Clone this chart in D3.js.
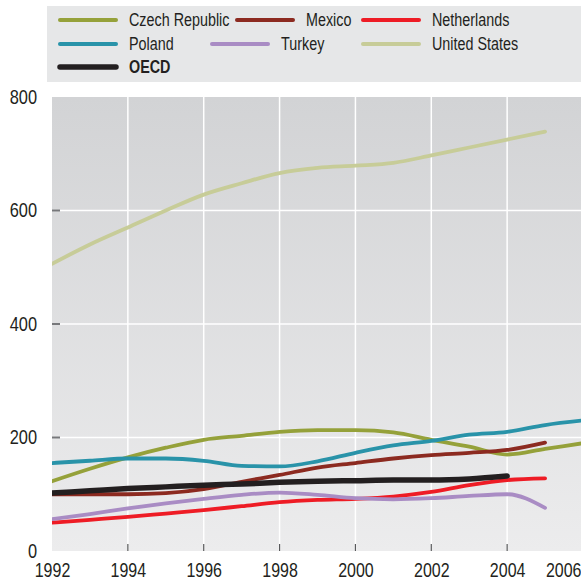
<!DOCTYPE html>
<html>
<head>
<meta charset="utf-8">
<script src="https://cdn.jsdelivr.net/npm/d3@7"></script>
<style>
  body { margin: 0; background: #fff; }
  svg { display: block; font-family: "Liberation Sans", Arial, sans-serif; }
  .lbl { fill: #231f20; }
</style>
</head>
<body>
<div id="chart"></div>
<script>
var years = [1992, 1993, 1994, 1995, 1996, 1997, 1998, 1999, 2000, 2001, 2002, 2003, 2004, 2005, 2006];
var czech = [123, 145, 165, 182, 196, 203, 210, 213, 213, 209, 196, 184, 170, 180, 190];
var mexico = [100, 100, 100, 102, 109, 122, 134, 147, 155, 163, 169, 173, 178, 191, null];
var netherlands = [50, 55, 60, 66, 72, 79, 86, 90, 92, 96, 104, 116, 125, 128, null];
var poland = [155, 159, 163, 163, 159, 150, 149, 158, 173, 186, 194, 205, 210, 222, 230];
var turkey = [56, 65, 75, 84, 92, 99, 103, 99, 93, 91, 93, 97, 100, 76, null];
var unitedStates = [506, 540, 570, 600, 628, 648, 666, 675, 679, 684, 697, 711, 725, 739, null];
var oecd = [102, 106, 110, 113, 116, 118, 121, 123, 124, 125, 125, 127, 132, null, null];
var yTicks = [0, 200, 400, 600, 800];
var xTicks = [1992, 1994, 1996, 1998, 2000, 2002, 2004, 2006];

var series = [
  {name: "Czech Republic", values: czech, color: "#95a13a"},
  {name: "Mexico", values: mexico, color: "#8c2a20"},
  {name: "Netherlands", values: netherlands, color: "#ee1c25"},
  {name: "Poland", values: poland, color: "#2993a9"},
  {name: "Turkey", values: turkey, color: "#a98cc4"},
  {name: "United States", values: unitedStates, color: "#c7cc98"},
  {name: "OECD", values: oecd, color: "#231f20", bold: true}
];
// draw order: OECD above the light ones, as in the picture
var drawOrder = ["United States", "Czech Republic", "Poland", "Mexico", "Netherlands", "Turkey", "OECD"];

var W = 581, H = 582;
var plot = {left: 52, right: 581, top: 97, bottom: 551};
var SX = 0.82; // no narrow font installed: squeeze Liberation Sans like Arial Narrow

var svg = d3.select("#chart").append("svg").attr("width", W).attr("height", H);

var x = d3.scaleLinear().domain([1992, 2006]).range([plot.left, 583]);
var y = d3.scaleLinear().domain([0, 800]).range([plot.bottom, plot.top]);

var narrow = function(sel) {
  sel.each(function() {
    var t = d3.select(this);
    var x0 = +t.attr("x") || 0, y0 = +t.attr("y") || 0;
    t.attr("x", 0).attr("y", 0)
      .attr("transform", "translate(" + x0 + "," + y0 + ") scale(" + SX + ",1)");
  });
};

var defs = svg.append("defs");
var grad = defs.append("linearGradient").attr("id", "bg").attr("x1", 0).attr("y1", 0).attr("x2", 0).attr("y2", 1);
grad.append("stop").attr("offset", "0%").attr("stop-color", "#d2d3d5");
grad.append("stop").attr("offset", "100%").attr("stop-color", "#ececed");
defs.append("clipPath").attr("id", "clip").append("rect")
  .attr("x", plot.left).attr("y", plot.top)
  .attr("width", plot.right - plot.left).attr("height", plot.bottom - plot.top);

// legend
var legend = svg.append("g");
legend.append("rect").attr("x", 47).attr("y", 6).attr("width", W - 47).attr("height", 76).attr("fill", "#e6e7e8");
var legendPos = {
  "Czech Republic": [60, 20], "Mexico": [237, 20], "Netherlands": [363, 20],
  "Poland": [60, 44], "Turkey": [212, 44], "United States": [363, 44],
  "OECD": [60, 67]
};
series.forEach(function(s) {
  var p = legendPos[s.name];
  legend.append("line").attr("x1", p[0]).attr("x2", p[0] + 56).attr("y1", p[1]).attr("y2", p[1])
    .attr("stroke", s.color).attr("stroke-width", s.bold ? 5.5 : 4).attr("stroke-linecap", "round");
  legend.append("text").attr("class", "lbl").attr("x", p[0] + 69).attr("y", p[1]).attr("dy", "0.36em")
    .style("font-size", "17.5px").style("font-weight", s.bold ? "bold" : "normal").text(s.name)
    .call(narrow);
});

// plot background and grid
svg.append("rect").attr("x", plot.left).attr("y", plot.top)
  .attr("width", plot.right - plot.left).attr("height", plot.bottom - plot.top).attr("fill", "url(#bg)");
var grid = svg.append("g").attr("clip-path", "url(#clip)");
grid.selectAll(".gy").data(yTicks.filter(function(d) { return d > 0 && d < 800; })).enter().append("line")
  .attr("x1", plot.left).attr("x2", plot.right).attr("y1", y).attr("y2", y)
  .attr("stroke", "#fff").attr("stroke-width", 1.5);
grid.selectAll(".gx").data(xTicks.filter(function(d) { return d > 1992 && d < 2006; })).enter().append("line")
  .attr("x1", x).attr("x2", x).attr("y1", plot.top).attr("y2", plot.bottom)
  .attr("stroke", "#fff").attr("stroke-width", 1.5);
grid.selectAll(".ty").data(yTicks.filter(function(d) { return d > 0 && d < 800; })).enter().append("line")
  .attr("x1", plot.left).attr("x2", plot.left + 8).attr("y1", y).attr("y2", y)
  .attr("stroke", "#77787b").attr("stroke-width", 2);
grid.selectAll(".tx").data(xTicks.filter(function(d) { return d > 1992 && d < 2006; })).enter().append("line")
  .attr("x1", x).attr("x2", x).attr("y1", plot.bottom - 7).attr("y2", plot.bottom)
  .attr("stroke", "#58595b").attr("stroke-width", 1.2);

// lines
var line = d3.line()
  .defined(function(d) { return d[1] != null; })
  .x(function(d) { return x(d[0]); })
  .y(function(d) { return y(d[1]); })
  .curve(d3.curveMonotoneX);
var lines = svg.append("g").attr("clip-path", "url(#clip)");
drawOrder.forEach(function(n) {
  var s = series.filter(function(t) { return t.name === n; })[0];
  var pts = years.map(function(yr, i) { return [yr, s.values[i]]; }).filter(function(d) { return d[1] != null; });
  lines.append("path").datum(pts).attr("d", line).attr("fill", "none")
    .attr("stroke", s.color).attr("stroke-width", s.bold ? 5.5 : 3.8)
    .attr("stroke-linecap", "round").attr("stroke-linejoin", "round");
});

// axes
var yAxis = svg.append("g").attr("transform", "translate(" + plot.left + ",0)")
  .call(d3.axisLeft(y).tickValues(yTicks).tickSize(0).tickPadding(15).tickFormat(d3.format("d")));
yAxis.select(".domain").remove();
yAxis.selectAll("text").attr("class", "lbl").style("font-size", "20px").style("font-family", null).call(narrow);

var xAxis = svg.append("g").attr("transform", "translate(0," + plot.bottom + ")")
  .call(d3.axisBottom(x).tickValues(xTicks).tickSize(0).tickPadding(12).tickFormat(d3.format("d")));
xAxis.select(".domain").remove();
xAxis.selectAll(".tick").filter(function(d) { return d === 2006; }).select("text")
  .attr("text-anchor", "end").attr("x", W - x(2006));
xAxis.selectAll("text").attr("class", "lbl").style("font-size", "19.5px").style("font-family", null).call(narrow);
</script>
</body>
</html>
